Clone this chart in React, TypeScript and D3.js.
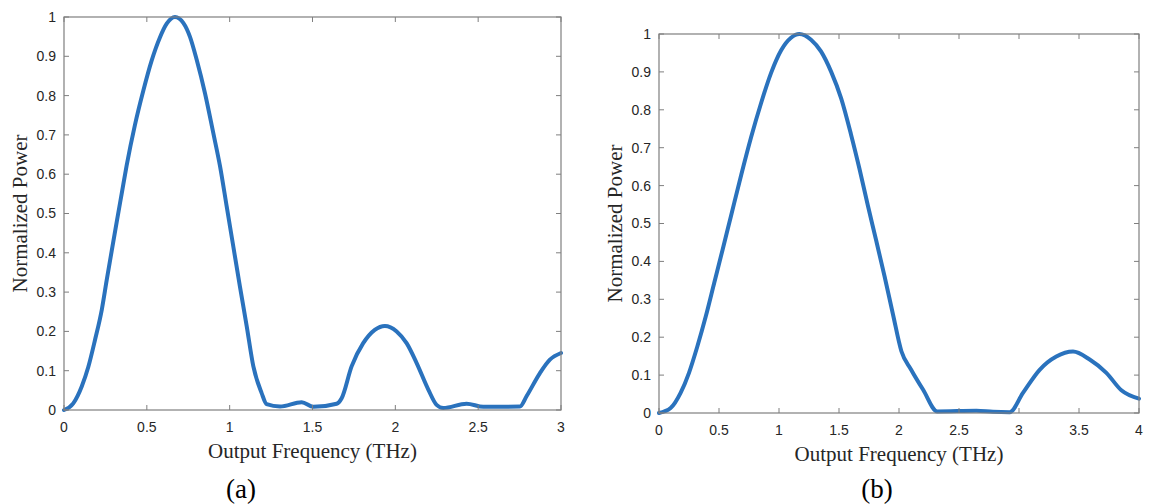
import React from "react";
import * as d3 from "d3";

// Panel (a): normalized output power vs. frequency (0–3 THz)
const freqA = [0, 0.056, 0.107, 0.147, 0.187, 0.228, 0.258, 0.288, 0.318, 0.348, 0.378, 0.428, 0.479, 0.529, 0.579, 0.62, 0.67, 0.72, 0.76, 0.801, 0.851, 0.901, 0.942, 0.982, 1.022, 1.062, 1.103, 1.143, 1.193, 1.223, 1.304, 1.435, 1.505, 1.646, 1.676, 1.736, 1.806, 1.876, 1.937, 2.008, 2.068, 2.128, 2.199, 2.249, 2.289, 2.43, 2.531, 2.752, 2.792, 2.873, 2.933, 3.0];
const powerA = [0, 0.017, 0.06, 0.11, 0.178, 0.255, 0.331, 0.405, 0.478, 0.55, 0.622, 0.725, 0.813, 0.889, 0.948, 0.983, 1.0, 0.985, 0.95, 0.891, 0.806, 0.705, 0.62, 0.518, 0.416, 0.314, 0.213, 0.111, 0.043, 0.015, 0.009, 0.02, 0.008, 0.016, 0.03, 0.111, 0.17, 0.204, 0.214, 0.2, 0.17, 0.12, 0.052, 0.013, 0.005, 0.016, 0.008, 0.009, 0.035, 0.094, 0.128, 0.145];

// Panel (b): normalized output power vs. frequency (0–4 THz)
const freqB = [0, 0.097, 0.18, 0.25, 0.32, 0.39, 0.46, 0.53, 0.6, 0.685, 0.768, 0.851, 0.935, 1.018, 1.1, 1.17, 1.267, 1.35, 1.435, 1.518, 1.6, 1.67, 1.74, 1.81, 1.88, 1.95, 2.02, 2.1, 2.2, 2.32, 2.645, 2.783, 2.922, 3.033, 3.172, 3.311, 3.45, 3.589, 3.728, 3.853, 4.0];
const powerB = [0, 0.013, 0.053, 0.106, 0.176, 0.255, 0.343, 0.431, 0.52, 0.628, 0.728, 0.818, 0.898, 0.957, 0.99, 1.0, 0.985, 0.954, 0.9, 0.83, 0.735, 0.645, 0.548, 0.455, 0.36, 0.26, 0.163, 0.115, 0.062, 0.004, 0.006, 0.003, 0.002, 0.053, 0.114, 0.149, 0.162, 0.141, 0.106, 0.06, 0.038];

const xTicksA = [0, 0.5, 1, 1.5, 2, 2.5, 3];
const xTicksB = [0, 0.5, 1, 1.5, 2, 2.5, 3, 3.5, 4];
const yTicks = [0, 0.1, 0.2, 0.3, 0.4, 0.5, 0.6, 0.7, 0.8, 0.9, 1];

const xLabel = "Output Frequency (THz)";
const yLabel = "Normalized Power";

type PanelProps = {
  xs: number[];
  ys: number[];
  xMax: number;
  xTicks: number[];
  left: number;
  right: number;
  top: number;
  bottom: number;
  caption: string;
  captionX: number;
};

const fmt = (v: number) => d3.format("~g")(v);

function Panel({ xs, ys, xMax, xTicks, left, right, top, bottom, caption, captionX }: PanelProps) {
  const x = d3.scaleLinear().domain([0, xMax]).range([left, right]);
  const y = d3.scaleLinear().domain([0, 1]).range([bottom, top]);
  const pts: [number, number][] = xs.map((v, i) => [v, ys[i]]);
  const line = d3
    .line<[number, number]>()
    .x((d) => x(d[0]))
    .y((d) => y(d[1]))
    .curve(d3.curveMonotoneX);
  const tickLen = 5;
  const axisColor = "#7f7f7f";
  const textColor = "#262626";
  const cx = (left + right) / 2;
  const cy = (top + bottom) / 2;
  return (
    <g>
      <path d={line(pts) ?? ""} fill="none" stroke="#2a72bd" strokeWidth={4} strokeLinejoin="round" strokeLinecap="round" />
      <rect x={left} y={top} width={right - left} height={bottom - top} fill="none" stroke={axisColor} strokeWidth={1.2} />
      {xTicks.map((t) => (
        <g key={"x" + t}>
          <line x1={x(t)} x2={x(t)} y1={bottom} y2={bottom - tickLen} stroke={axisColor} />
          <line x1={x(t)} x2={x(t)} y1={top} y2={top + tickLen} stroke={axisColor} />
          <text x={x(t)} y={bottom + 22} textAnchor="middle" fontFamily="Liberation Sans, Arial, sans-serif" fontSize={14} fill={textColor}>
            {fmt(t)}
          </text>
        </g>
      ))}
      {yTicks.map((t) => (
        <g key={"y" + t}>
          <line x1={left} x2={left + tickLen} y1={y(t)} y2={y(t)} stroke={axisColor} />
          <line x1={right} x2={right - tickLen} y1={y(t)} y2={y(t)} stroke={axisColor} />
          <text x={left - 8} y={y(t)} dy="0.35em" textAnchor="end" fontFamily="Liberation Sans, Arial, sans-serif" fontSize={14} fill={textColor}>
            {fmt(t)}
          </text>
        </g>
      ))}
      <text x={cx} y={bottom + 48} textAnchor="middle" fontFamily="Liberation Serif, Times New Roman, serif" fontSize={21} fill={textColor}>
        {xLabel}
      </text>
      <text
        transform={`translate(${left - 37},${cy}) rotate(-90)`}
        textAnchor="middle"
        fontFamily="Liberation Serif, Times New Roman, serif"
        fontSize={21}
        fill={textColor}
      >
        {yLabel}
      </text>
      <text x={captionX} y={498} textAnchor="middle" fontFamily="Liberation Serif, Times New Roman, serif" fontSize={27} fill="#000">
        {caption}
      </text>
    </g>
  );
}

export default function App() {
  return (
    <svg width={1152} height={504} style={{ position: "absolute", left: 0, top: 0, background: "#fff" }}>
      <rect width={1152} height={504} fill="#fff" />
      <Panel xs={freqA} ys={powerA} xMax={3} xTicks={xTicksA} left={64} right={561} top={17} bottom={410} caption="(a)" captionX={241} />
      <Panel xs={freqB} ys={powerB} xMax={4} xTicks={xTicksB} left={659} right={1139} top={34} bottom={413} caption="(b)" captionX={877} />
    </svg>
  );
}
